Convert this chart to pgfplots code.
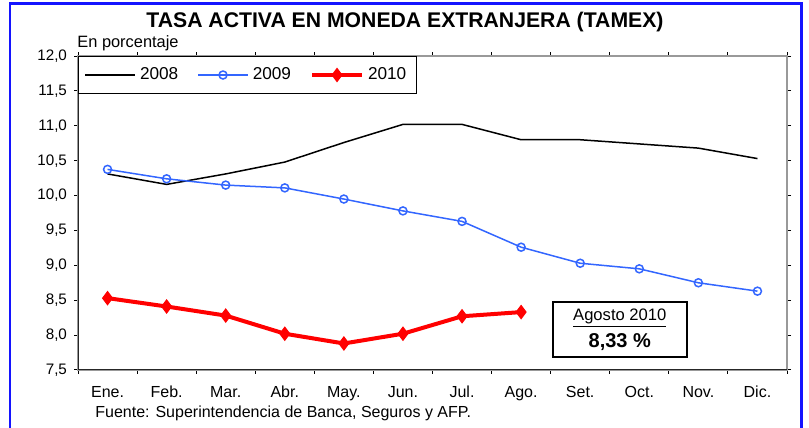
\documentclass[border=0pt]{standalone}
\usepackage{fontspec}
\setmainfont{Liberation Sans}
\usepackage{pgfplots}
\pgfplotsset{compat=1.18}
\definecolor{blueS}{RGB}{51,102,255}
\definecolor{frameblue}{RGB}{20,20,255}
\begin{document}
\begin{tikzpicture}
\path[use as bounding box] (0,0) rectangle (404.5pt,214pt);
\begin{axis}[
  at={(39pt,29pt)}, anchor=south west, scale only axis,
  width=354.5pt, height=157pt,
  xmin=-0.5, xmax=11.5, ymin=7.5, ymax=12,
  xtick={-0.5,0.5,...,11.5}, xticklabels={},
  extra x ticks={0,1,2,3,4,5,6,7,8,9,10,11},
  extra x tick labels={Ene.,Feb.,Mar.,Abr.,May.,Jun.,Jul.,Ago.,Set.,Oct.,Nov.,Dic.},
  extra x tick style={major tick length=0pt, xticklabel style={yshift=-4.5pt}},
  ytick={7.5,8,8.5,9,9.5,10,10.5,11,11.5,12},
  tick align=outside, major tick length=2pt,
  tick style={black, line width=0.5pt},
  xticklabel style={font=\fontsize{8}{9}\selectfont},
  yticklabel style={font=\fontsize{7.6}{9}\selectfont, /pgf/number format/.cd, fixed, fixed zerofill, precision=1, use comma, assume math mode=true},
  axis line style={draw=gray!80, line width=0.6pt},
  legend style={at={(0,1)}, anchor=north west, draw=black, line width=0.5pt, legend columns=3,
    font=\fontsize{8.6}{10}\selectfont, inner ysep=3.5pt, inner xsep=3pt,
    /tikz/every even column/.append style={column sep=7.5pt}},
  legend image code/.code={\draw[mark repeat=2,mark phase=2,#1] plot coordinates {(0pt,0pt)(12.5pt,0pt)(25pt,0pt)};},
]
\addplot[black, line width=0.75pt, mark=none] coordinates {(0,10.31)(1,10.16)(2,10.31)(3,10.48)(4,10.76)(5,11.02)(6,11.02)(7,10.80)(8,10.80)(9,10.74)(10,10.68)(11,10.53)};
\addplot[blueS, line width=0.75pt, mark=o, mark size=2pt, mark options={fill=white, line width=0.75pt}] coordinates {(0,10.375)(1,10.24)(2,10.15)(3,10.11)(4,9.95)(5,9.78)(6,9.63)(7,9.26)(8,9.03)(9,8.95)(10,8.75)(11,8.63)};
\addplot[red, line width=2pt, mark=diamond*, mark size=3.3pt, mark options={line width=0.5pt}] coordinates {(0,8.53)(1,8.41)(2,8.28)(3,8.02)(4,7.88)(5,8.02)(6,8.27)(7,8.33)};
\legend{2008,2009,2010}
\draw[black!85, line width=0.7pt] (rel axis cs:0,1) -- (rel axis cs:0,0) -- (rel axis cs:1,0);
\node[draw, line width=1pt, fill=white, align=center, minimum width=67pt, minimum height=27.5pt, inner sep=1pt] at (axis cs:8.67,8.08)
  {{\fontsize{8.3}{10}\selectfont\underline{Agosto 2010}}\\[1.5pt]{\fontsize{10}{12}\selectfont\bfseries 8,33 \%}};
\end{axis}
\node[font=\fontsize{10.6}{13}\selectfont\bfseries] at (202.5pt,203pt) {TASA ACTIVA EN MONEDA EXTRANJERA (TAMEX)};
\node[font=\fontsize{8.2}{10}\selectfont, anchor=base west, inner sep=0pt] at (38.5pt,190pt) {En porcentaje};
\node[font=\fontsize{8}{10}\selectfont, anchor=base west, inner sep=0pt] at (47.5pt,5pt) {Fuente: Superintendencia de Banca, Seguros y AFP.};
\draw[frameblue, line width=1.3pt] (5pt,0pt) -- (5pt,212.3pt) -- (400.8pt,212.3pt) -- (400.8pt,0pt);
\end{tikzpicture}
\end{document}
